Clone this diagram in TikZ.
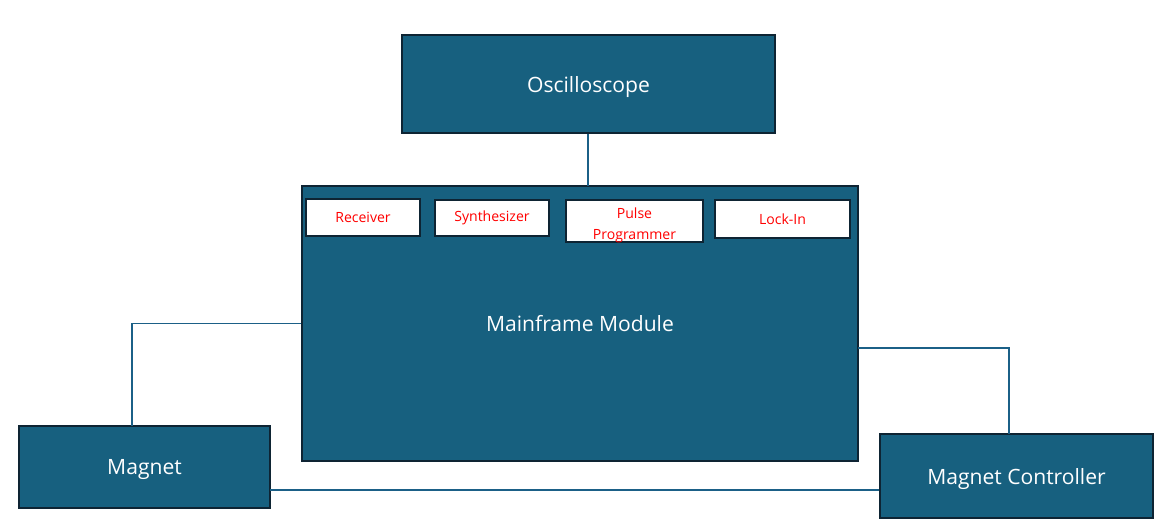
\documentclass[tikz,border=0pt]{standalone}
\usepackage{fontspec}
\setmainfont{Open Sans}
\definecolor{boxblue}{HTML}{17607F}
\definecolor{boxedge}{HTML}{0E2433}
\definecolor{wireblue}{HTML}{1B6087}
\begin{document}
\begin{tikzpicture}[x=0.02cm, y=-0.02cm,
    unit/.style={draw=boxedge, line width=1.1pt, fill=boxblue, text=white, inner sep=0pt, text depth=0pt, font=\fontsize{12}{14}\selectfont},
    module/.style={draw=boxedge, line width=1.1pt, fill=white, text=red, inner sep=0pt, align=center, font=\fontsize{8}{12}\selectfont},
    wire/.style={draw=wireblue, line width=1pt}]
    \useasboundingbox (0,0) rectangle (1170,526);

    \node[unit, minimum width=7.46cm, minimum height=1.96cm] at (588.5,84) (osc) {Oscilloscope};
    \node[unit, minimum width=11.12cm, minimum height=5.5cm] at (580,323.5) (main) {Mainframe Module};
    \node[unit, minimum width=5.02cm, minimum height=1.64cm] at (144.5,467) (mag) {Magnet};
    \node[unit, minimum width=5.46cm, minimum height=1.68cm] at (1016.5,476) (ctrl) {Magnet Controller};

    \node[module, minimum width=2.28cm, minimum height=0.74cm] at (363,217.5) (rec) {Receiver};
    \node[module, minimum width=2.28cm, minimum height=0.72cm] at (492,218) (syn) {Synthesizer};
    \node[module, minimum width=2.74cm, minimum height=0.84cm] at (634.5,221) (pulse) {};
    \node[module, draw=none, fill=none] at (634.5,225.5) (pulselbl) {Pulse\\Programmer};
    \node[module, minimum width=2.70cm, minimum height=0.76cm] at (782.5,219) (lock) {Lock-In};

    \coordinate (magtop) at (132,426);
    \coordinate (mainright) at (858,348);
    \coordinate (ctrltop) at (1009,434);
    \coordinate (magright) at (270,490);

    \draw[wire] (osc.south -| 588,0) -- (588,186);
    \draw[wire] (main.west) -| (magtop);
    \draw[wire] (mainright) -| (ctrltop);
    \draw[wire] (magright) -- (magright -| ctrl.west);
\end{tikzpicture}
\end{document}
